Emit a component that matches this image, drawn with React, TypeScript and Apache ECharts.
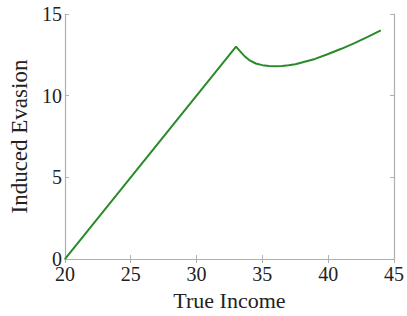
import React, { useEffect, useRef } from "react";
import * as echarts from "echarts";

const xValues = [20, 33, 33.2, 33.4, 33.7, 34, 34.5, 35, 35.5, 36, 36.5, 37, 37.5, 38, 39, 40, 41, 42, 43, 44];
const yValues = [0, 13.0, 12.82, 12.64, 12.38, 12.18, 11.97, 11.87, 11.82, 11.8, 11.82, 11.86, 11.93, 12.03, 12.25, 12.55, 12.87, 13.22, 13.6, 14.0];
const xTicks = [20, 25, 30, 35, 40, 45];
const yTicks = [0, 5, 10, 15];

export default function App() {
  const ref = useRef<HTMLDivElement>(null);
  useEffect(() => {
    if (!ref.current) return;
    const chart = echarts.init(ref.current, null, { renderer: "svg" });
    const font = "Liberation Serif";
    const axisLine = { show: true, lineStyle: { color: "#b0b0b0", width: 1.2 } };
    const tick = { show: true, inside: true, length: 4, lineStyle: { color: "#b0b0b0" } };
    chart.setOption({
      animation: false,
      backgroundColor: "#fff",
      grid: { left: 61, right: 12, top: 14, bottom: 50, containLabel: false },
      xAxis: [
        {
          type: "value",
          min: xTicks[0],
          max: xTicks[xTicks.length - 1],
          interval: 5,
          axisLine,
          axisTick: tick,
          splitLine: { show: false },
          axisLabel: { fontFamily: font, fontSize: 20, color: "#222", margin: 5 },
          name: "True Income",
          nameLocation: "middle",
          nameGap: 23,
          nameTextStyle: { fontFamily: font, fontSize: 22, color: "#222" },
        },
        {
          type: "value",
          position: "top",
          min: xTicks[0],
          max: xTicks[xTicks.length - 1],
          interval: 5,
          axisLine,
          axisTick: tick,
          splitLine: { show: false },
          axisLabel: { show: false },
        },
      ],
      yAxis: [
        {
          type: "value",
          min: yTicks[0],
          max: yTicks[yTicks.length - 1],
          interval: 5,
          axisLine,
          axisTick: tick,
          splitLine: { show: false },
          axisLabel: { fontFamily: font, fontSize: 20, color: "#222", margin: 3 },
          name: "Induced Evasion",
          nameLocation: "middle",
          nameGap: 27,
          nameTextStyle: { fontFamily: font, fontSize: 23, color: "#222" },
        },
        {
          type: "value",
          position: "right",
          min: yTicks[0],
          max: yTicks[yTicks.length - 1],
          interval: 5,
          axisLine,
          axisTick: tick,
          splitLine: { show: false },
          axisLabel: { show: false },
        },
      ],
      series: [
        {
          type: "line",
          data: xValues.map((x, i) => [x, yValues[i]]),
          showSymbol: false,
          smooth: false,
          lineStyle: { color: "#2a8a2a", width: 2 },
          itemStyle: { color: "#2a8a2a" },
        },
      ],
    });
    return () => chart.dispose();
  }, []);
  return (
    <div
      ref={ref}
      style={{ position: "fixed", left: 0, top: 0, width: 407, height: 316, background: "#fff" }}
    />
  );
}
